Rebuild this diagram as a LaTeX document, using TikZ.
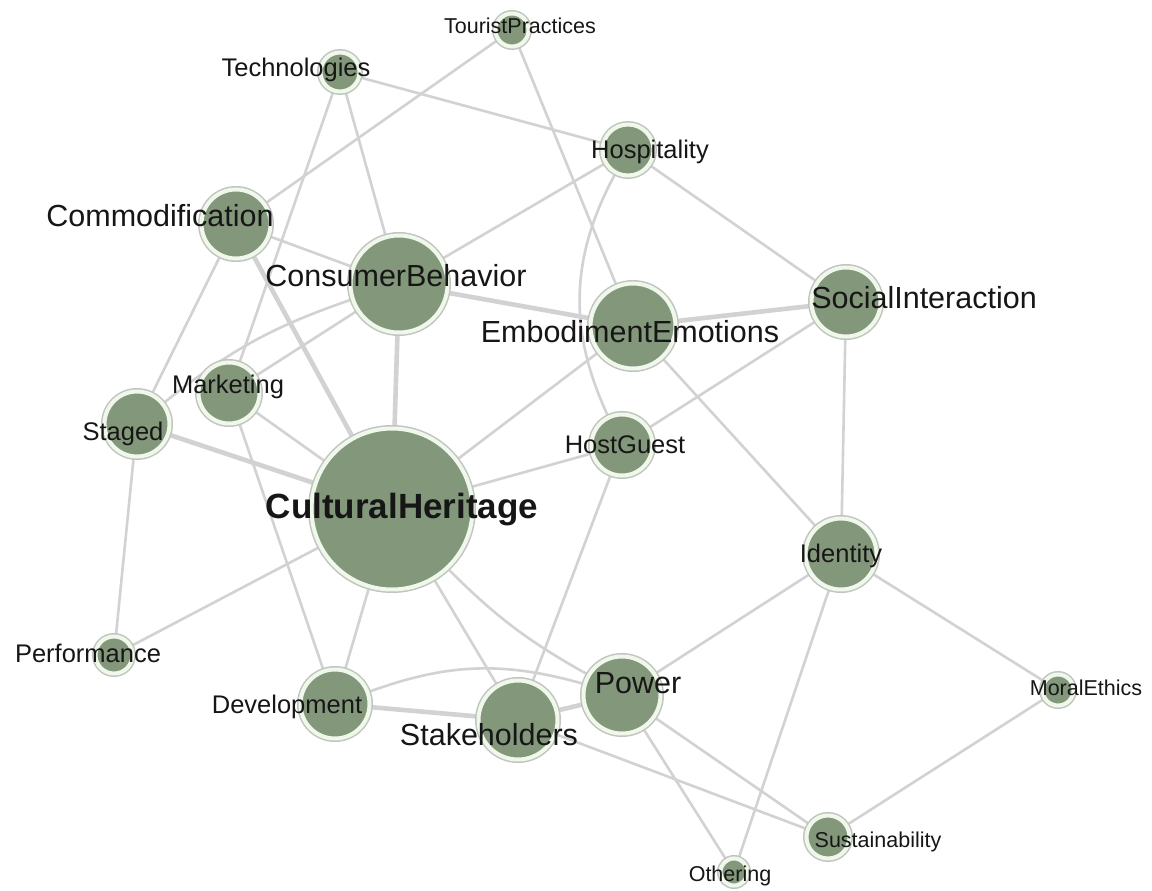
\documentclass[tikz,border=0pt]{standalone}
\usepackage{fontspec}
\setmainfont{Liberation Sans}
\pgfdeclarelayer{paper}
\pgfdeclarelayer{edges}
\pgfsetlayers{paper,edges,main}

\definecolor{sage}{RGB}{131,152,123}
\definecolor{ringpale}{RGB}{240,247,235}
\definecolor{ringgray}{RGB}{192,197,190}
\definecolor{edgegray}{RGB}{210,210,210}
\definecolor{ink}{RGB}{22,22,22}

\tikzset{
  topic/.style={circle, inner sep=0pt, outer sep=0pt,
    minimum size={2*#1pt-7pt}, fill=sage, draw=ringpale, line width=4pt,
    preaction={draw=ringgray, line width=7pt}},
  lbl/.style={anchor=base, text=ink, inner sep=0pt},
  huge lbl/.style={lbl, font=\fontsize{35}{40}\selectfont\bfseries},
  big lbl/.style={lbl, font=\fontsize{30.5}{36}\selectfont},
  mid lbl/.style={lbl, font=\fontsize{25.5}{30}\selectfont},
  small lbl/.style={lbl, font=\fontsize{21.5}{25}\selectfont},
  link/.style={draw=edgegray, line width=2.6pt},
  heavy/.style={draw=edgegray, line width=4.6pt}
}

\begin{document}
\begin{tikzpicture}[x=1pt, y=-1pt]
\useasboundingbox (0,0) rectangle (1152,891);
\begin{pgfonlayer}{paper}
\fill[white] (0,0) rectangle (1152,891);
\end{pgfonlayer}

% topic circles
\node[topic=20] (tp)    at (512,30)  {};
\node[topic=23] (tech)  at (340,72)  {};
\node[topic=29] (hosp)  at (628,150) {};
\node[topic=38] (comm)  at (236,224) {};
\node[topic=52] (cb)    at (399,284) {};
\node[topic=46] (ee)    at (633,326) {};
\node[topic=38] (si)    at (846,302) {};
\node[topic=34] (mkt)   at (229,393) {};
\node[topic=36] (stg)   at (137,424) {};
\node[topic=34] (hg)    at (622,445) {};
\node[topic=84] (ch)    at (392,509) {};
\node[topic=39] (ident) at (841,554) {};
\node[topic=22] (perf)  at (114,655) {};
\node[topic=38] (dev)   at (335,704) {};
\node[topic=43] (stk)   at (518,720) {};
\node[topic=42] (pow)   at (622,695) {};
\node[topic=19] (me)    at (1058,690) {};
\node[topic=25] (sust)  at (828,837) {};
\node[topic=17] (oth)   at (734,872) {};

% connections between topics
\begin{pgfonlayer}{edges}
\draw[link] (tp) -- (comm);
\draw[link] (tp) -- (ee);
\draw[link] (tech) -- (hosp);
\draw[link] (tech) -- (cb);
\draw[link] (tech) -- (mkt);
\draw[link] (comm) -- (cb);
\draw[link] (comm) -- (stg);
\draw[heavy] (comm) -- (ch);
\draw[link] (cb) -- (mkt);
\draw[link] (cb) to[bend right=10] (stg);
\draw[heavy] (cb) -- (ch);
\draw[heavy] (cb) -- (ee);
\draw[link] (cb) -- (hosp);
\draw[link] (hosp) to[bend right=27] (hg);
\draw[link] (hosp) -- (si);
\draw[heavy] (ee) -- (si);
\draw[link] (ee) -- (ident);
\draw[link] (hg) -- (si);
\draw[link] (hg) -- (ch);
\draw[link] (hg) -- (stk);
\draw[link] (ch) -- (ee);
\draw[link] (si) -- (ident);
\draw[link] (ident) -- (pow);
\draw[link] (ident) -- (oth);
\draw[link] (ident) -- (me);
\draw[link] (me) -- (sust);
\draw[link] (pow) -- (sust);
\draw[link] (pow) -- (oth);
\draw[link] (stk) -- (sust);
\draw[heavy] (stk) -- (pow);
\draw[heavy] (dev) -- (stk);
\draw[link] (dev) to[bend left=18] (pow);
\draw[link] (dev) -- (ch);
\draw[link] (dev) -- (mkt);
\draw[link] (ch) -- (stk);
\draw[link] (ch) to[bend right=8] (pow);
\draw[link] (ch) -- (perf);
\draw[heavy] (ch) -- (stg);
\draw[link] (ch) -- (mkt);
\draw[link] (stg) -- (perf);
\end{pgfonlayer}

% labels
\node[small lbl] (tpL)    at (520,34)  {TouristPractices};
\node[mid lbl]   (techL)  at (296,77)  {Technologies};
\node[mid lbl]   (hospL)  at (650,158) {Hospitality};
\node[big lbl]   (commL)  at (160,226) {Commodification};
\node[big lbl]   (cbL)    at (396,286) {ConsumerBehavior};
\node[big lbl]   (eeL)    at (630,342) {EmbodimentEmotions};
\node[big lbl]   (siL)    at (924,308) {SocialInteraction};
\node[mid lbl]   (mktL)   at (228,393) {Marketing};
\node[mid lbl]   (stgL)   at (123,440) {Staged};
\node[mid lbl]   (hgL)    at (625,453) {HostGuest};
\node[huge lbl]  (chL)    at (402,518) {CulturalHeritage};
\node[mid lbl]   (identL) at (841,562) {Identity};
\node[mid lbl]   (perfL)  at (88,662)  {Performance};
\node[mid lbl]   (devL)   at (287,713) {Development};
\node[big lbl]   (stkL)   at (489,745) {Stakeholders};
\node[big lbl]   (powL)   at (638,693) {Power};
\node[small lbl] (meL)    at (1086,695) {MoralEthics};
\node[small lbl] (sustL)  at (878,847) {Sustainability};
\node[small lbl] (othL)   at (730,881) {Othering};
\end{tikzpicture}
\end{document}
